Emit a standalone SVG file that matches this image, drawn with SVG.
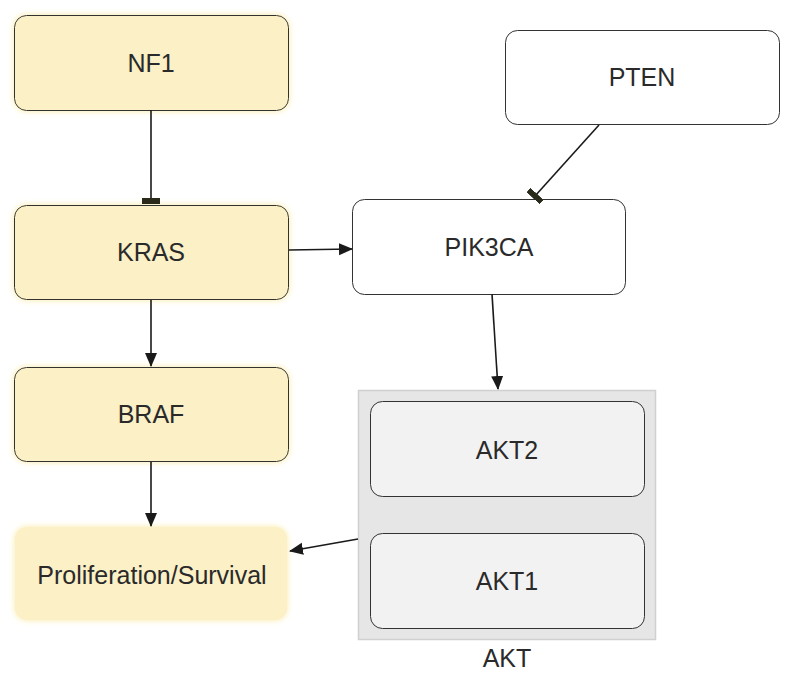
<svg xmlns="http://www.w3.org/2000/svg" width="794" height="678" viewBox="0 0 794 678">
<defs>
<filter id="glow" x="-10%" y="-15%" width="120%" height="130%">
<feGaussianBlur in="SourceAlpha" stdDeviation="3" result="b"/>
<feFlood flood-color="#f7e27a" flood-opacity="0.7"/>
<feComposite in2="b" operator="in" result="g"/>
<feMerge><feMergeNode in="g"/><feMergeNode in="SourceGraphic"/></feMerge>
</filter>
<marker id="arr" viewBox="0 0 14 14" refX="13" refY="7" markerWidth="14" markerHeight="14" markerUnits="userSpaceOnUse" orient="auto">
<path d="M0,1 L14,7 L0,13 z" fill="#1a1a1a"/>
</marker>
<marker id="tee" viewBox="0 0 6 18" refX="3" refY="9" markerWidth="6" markerHeight="18" markerUnits="userSpaceOnUse" orient="auto">
<rect x="0" y="0" width="6" height="18" fill="#2a2a1a"/>
</marker>
</defs>
<style>
.hl rect{fill:#fbf0c6;stroke:#333;stroke-width:1}
.pl rect{fill:#fff;stroke:#333;stroke-width:1}
.gr rect{fill:#f2f2f2;stroke:#333;stroke-width:1}
text{font-family:"Liberation Sans",Arial,sans-serif;font-size:25px;fill:#2a2a2a;text-anchor:middle;dominant-baseline:central}
.edges line{stroke:#1a1a1a;stroke-width:1.6;fill:none}
</style>
<rect width="794" height="678" fill="#fff"/>
<g id="AKT">
<rect x="358.5" y="390.5" width="297" height="249" fill="#e6e6e6" stroke="#d0d0d0" stroke-width="1.5"/>
<text x="507" y="658">AKT</text>
</g>
<g id="NF1" class="hl"><rect x="14.5" y="15.5" width="274" height="95" rx="12" filter="url(#glow)"/><text x="151" y="63">NF1</text></g>
<g id="KRAS" class="hl"><rect x="14.5" y="205.5" width="274" height="94" rx="12" filter="url(#glow)"/><text x="151" y="252">KRAS</text></g>
<g id="BRAF" class="hl"><rect x="14.5" y="367.5" width="274" height="94" rx="12" filter="url(#glow)"/><text x="151" y="414">BRAF</text></g>
<g id="Proliferation"><rect x="15" y="527" width="272" height="93" rx="12" fill="#fbf0c6" filter="url(#glow)"/><text x="152" y="575">Proliferation/Survival</text></g>
<g id="PTEN" class="pl"><rect x="505.5" y="30.5" width="274" height="94" rx="12"/><text x="642" y="77">PTEN</text></g>
<g id="PIK3CA" class="pl"><rect x="352.5" y="199.5" width="273" height="95" rx="12"/><text x="489" y="247">PIK3CA</text></g>
<g id="AKT2" class="gr"><rect x="370.5" y="401.5" width="274" height="95" rx="12"/><text x="507" y="450">AKT2</text></g>
<g id="AKT1" class="gr"><rect x="370.5" y="533.5" width="274" height="95" rx="12"/><text x="507" y="581">AKT1</text></g>
<g class="edges">
<line x1="151" y1="110" x2="151" y2="201" marker-end="url(#tee)"/>
<line x1="289" y1="250" x2="352" y2="249" marker-end="url(#arr)"/>
<line x1="151" y1="300" x2="151" y2="366" marker-end="url(#arr)"/>
<line x1="151" y1="462" x2="151" y2="526" marker-end="url(#arr)"/>
<line x1="492" y1="294" x2="498" y2="389" marker-end="url(#arr)"/>
<line x1="599" y1="125" x2="535" y2="196" marker-end="url(#tee)"/>
<line x1="358" y1="539" x2="290" y2="551" marker-end="url(#arr)"/>
</g>
</svg>
